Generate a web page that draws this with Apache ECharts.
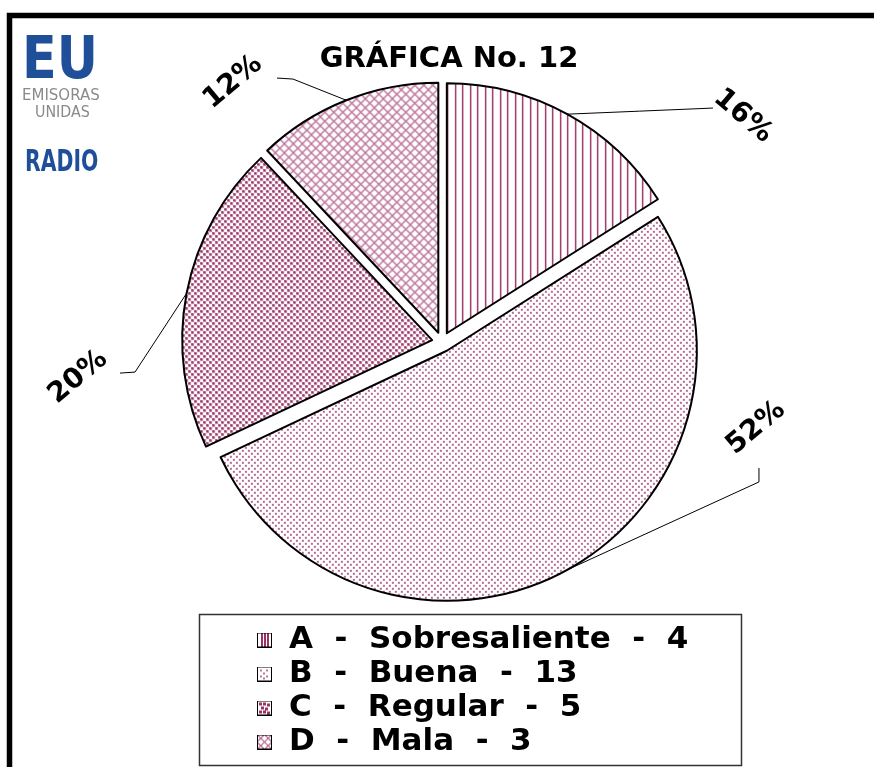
<!DOCTYPE html>
<html>
<head>
<meta charset="utf-8">
<script src="https://cdn.jsdelivr.net/npm/echarts@6/dist/echarts.min.js"></script>
<style>
  html, body { margin: 0; padding: 0; background: #fff; }
  #chart { width: 874px; height: 767px; }
</style>
</head>
<body>
<div id="chart"></div>
<script>
// Survey results: rating letter, rating name, number of answers
const letters = ['A', 'B', 'C', 'D'];
const categories = ['Sobresaliente', 'Buena', 'Regular', 'Mala'];
const counts = [4, 13, 5, 3];
const chartTitle = 'GRÁFICA No. 12';

const PLUM = '#993366';

// Small repeating tiles used as hatch fills
function makeTile(w, h, draw) {
  const c = document.createElement('canvas');
  c.width = w; c.height = h;
  const ctx = c.getContext('2d');
  ctx.fillStyle = '#fff';
  ctx.fillRect(0, 0, w, h);
  draw(ctx, w, h);
  return c;
}

const sliceTiles = [
  // vertical stripes
  makeTile(15, 4, (ctx) => {
    ctx.fillStyle = PLUM; ctx.fillRect(0, 0, 1, 4); ctx.fillRect(7, 0, 1, 4);
    ctx.fillStyle = '#d3a3bd'; ctx.fillRect(1, 0, 1, 4); ctx.fillRect(8, 0, 1, 4);
  }),
  // fine sparse dots
  makeTile(6, 6, (ctx) => {
    ctx.fillStyle = '#b46b93'; ctx.fillRect(0, 0, 2, 2); ctx.fillRect(3, 3, 2, 2);
  }),
  // coarse dense squares
  makeTile(6, 6, (ctx) => {
    ctx.fillStyle = '#c68aa9';
    ctx.fillRect(0, 0, 3, 3); ctx.fillRect(3, 3, 3, 3);
    ctx.fillStyle = PLUM; ctx.fillRect(0, 0, 2, 2); ctx.fillRect(3, 3, 2, 2);
  }),
  // diagonal cross-hatch
  makeTile(9, 9, (ctx, w, h) => {
    ctx.strokeStyle = '#bb6f98'; ctx.lineWidth = 1.3;
    for (const k of [-w, 0, w]) {
      ctx.beginPath(); ctx.moveTo(k - 1, -1); ctx.lineTo(k + w + 1, h + 1); ctx.stroke();
      ctx.beginPath(); ctx.moveTo(k + w + 1, -1); ctx.lineTo(k - 1, h + 1); ctx.stroke();
    }
  })
];

// Legend swatches: a framed square with an enlarged version of each hatch
function makeSwatch(draw) {
  const s = 15;
  const c = document.createElement('canvas');
  c.width = s; c.height = s;
  const ctx = c.getContext('2d');
  ctx.fillStyle = '#fff'; ctx.fillRect(0, 0, s, s);
  draw(ctx, s);
  ctx.strokeStyle = '#000'; ctx.lineWidth = 1;
  ctx.strokeRect(0.5, 0.5, s - 1, s - 1);
  return c.toDataURL();
}
const swatches = [
  makeSwatch((ctx) => { ctx.fillStyle = PLUM; [4, 7, 10].forEach(x => ctx.fillRect(x, 1, 2, 13)); }),
  makeSwatch((ctx) => { ctx.fillStyle = '#c07aa0'; [[3,3],[9,3],[6,6],[3,9],[9,9],[6,11]].forEach(([x,y]) => ctx.fillRect(x, y, 2, 2)); }),
  makeSwatch((ctx) => { ctx.fillStyle = PLUM; [[2,2],[6,2],[10,3],[4,6],[8,7],[2,10],[6,10],[10,11]].forEach(([x,y]) => ctx.fillRect(x, y, 3, 3)); }),
  makeSwatch((ctx, s) => {
    ctx.strokeStyle = '#b5648f'; ctx.lineWidth = 1.2;
    ctx.beginPath();
    ctx.moveTo(0, 0); ctx.lineTo(s, s); ctx.moveTo(s, 0); ctx.lineTo(0, s);
    ctx.moveTo(s / 2, 0); ctx.lineTo(s, s / 2); ctx.lineTo(s / 2, s); ctx.lineTo(0, s / 2); ctx.closePath();
    ctx.stroke();
  })
];

// Where each percentage sits: pie label line lengths (radial, horizontal) and text angle
const labelPlacement = [
  { length: 22.4,   length2: 134.2, rotate: -40 },
  { length: -137.4, length2: 224.2, rotate: 40 },
  { length: -332.4, length2: 404.4, rotate: 40 },
  { length: 42.7,   length2: 66.9,  rotate: 40 }
];
// Drawn leader lines, relative to the point where each line leaves its slice
const leaderShape = [
  { elbow: [72, -3],        end: [145.7, -6.1] },
  { elbow: [191.7, -87.9],  end: [191.7, -101.9] },
  { elbow: [-51.6, 78.8],   end: [-66.6, 79.8] },
  { elbow: [-53.3, -21.2],  end: [-69.3, -22.2] }
];

const chart = echarts.init(document.getElementById('chart'), null, { renderer: 'canvas' });

chart.setOption({
  backgroundColor: '#fff',
  animation: false,
  title: {
    text: chartTitle,
    left: 444,
    top: 40,
    textAlign: 'center',
    textStyle: { fontFamily: 'DejaVu Sans', fontWeight: 'bold', fontSize: 29, color: '#000' }
  },
  legend: {
    orient: 'vertical',
    left: 252,
    top: 618,
    itemWidth: 15,
    itemHeight: 15,
    itemGap: 0,
    selectedMode: false,
    data: letters.map((l, i) => ({ name: l, icon: 'image://' + swatches[i] })),
    formatter: (name) => {
      const i = letters.indexOf(name);
      return name + '  -  ' + categories[i] + '  -  ' + counts[i];
    },
    textStyle: {
      fontFamily: 'DejaVu Sans', fontWeight: 'bold', fontSize: 31, color: '#000',
      lineHeight: 34, padding: [0, 0, 0, 12]
    }
  },
  graphic: [
    // outer frame
    { type: 'rect', silent: true, shape: { x: 9.5, y: 15.5, width: 1000, height: 1000 },
      style: { fill: 'none', stroke: '#000', lineWidth: 5.5 } },
    // legend box
    { type: 'rect', silent: true, shape: { x: 199.5, y: 614.5, width: 542, height: 151 },
      style: { fill: 'none', stroke: '#333', lineWidth: 1.5 } },
    // station logo
    { type: 'text', silent: true, x: 22, y: 63, scaleX: 0.86,
      style: { text: 'EU', font: 'bold 59px "DejaVu Sans"', fill: '#1f4f98', verticalAlign: 'middle' } },
    { type: 'text', silent: true, x: 22, y: 96, scaleX: 1.0,
      style: { text: 'EMISORAS', font: '15px "DejaVu Sans"', fill: '#8a8a8a', verticalAlign: 'middle' } },
    { type: 'text', silent: true, x: 35, y: 113, scaleX: 0.95,
      style: { text: 'UNIDAS', font: '15px "DejaVu Sans"', fill: '#8a8a8a', verticalAlign: 'middle' } },
    { type: 'text', silent: true, x: 25, y: 163, scaleX: 0.68,
      style: { text: 'RADIO', font: 'bold 30px "DejaVu Sans"', fill: '#1f4f98', verticalAlign: 'middle' } }
  ],
  series: [{
    type: 'pie',
    center: [442, 342],
    radius: 250,
    startAngle: 90,
    clockwise: true,
    selectedMode: 'multiple',
    selectedOffset: 10,
    avoidLabelOverlap: false,
    emphasis: { disabled: true },
    itemStyle: { borderColor: '#000', borderWidth: 2 },
    label: {
      show: true,
      position: 'outside',
      formatter: '{d}%',
      fontFamily: 'DejaVu Sans', fontWeight: 'bold', fontSize: 28, color: '#000'
    },
    labelLine: { show: true, lineStyle: { color: '#000', width: 1 } },
    labelLayout: (params) => {
      const pts = params.labelLinePoints;
      if (!pts) return {};
      const g = leaderShape[params.dataIndex];
      const [x0, y0] = pts[0];
      return {
        labelLinePoints: [[x0, y0], [x0 + g.elbow[0], y0 + g.elbow[1]], [x0 + g.end[0], y0 + g.end[1]]]
      };
    },
    data: counts.map((v, i) => ({
      name: letters[i],
      value: v,
      selected: true,
      itemStyle: { color: { image: sliceTiles[i], repeat: 'repeat' } },
      label: { rotate: labelPlacement[i].rotate },
      labelLine: { length: labelPlacement[i].length, length2: labelPlacement[i].length2 }
    }))
  }]
});
</script>
</body>
</html>
